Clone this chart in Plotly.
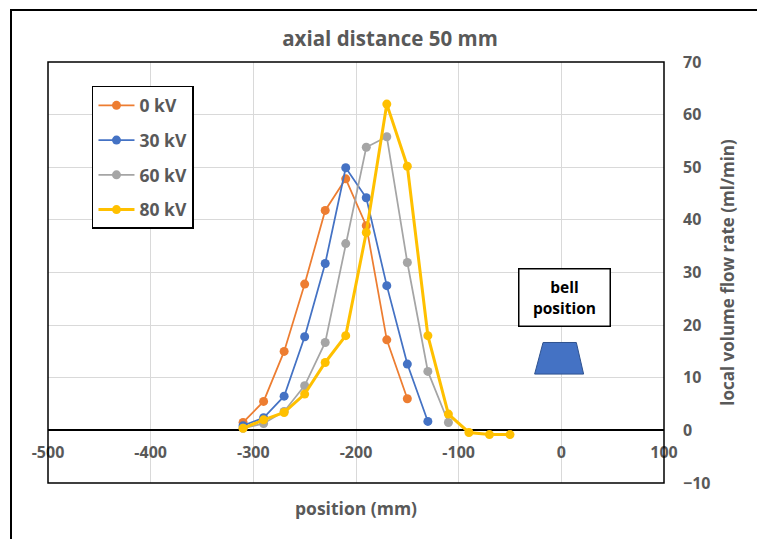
import plotly.graph_objects as go

# ---- data ----
positions = [-310, -290, -270, -250, -230, -210, -190, -170, -150, -130, -110, -90, -70, -50]

kv0 = [1.5, 5.5, 15.0, 27.8, 41.8, 47.8, 38.9, 17.2, 6.0]
kv30 = [0.9, 2.4, 6.5, 17.8, 31.7, 49.9, 44.2, 27.5, 12.6, 1.7]
kv60 = [0.4, 1.3, 3.6, 8.5, 16.7, 35.5, 53.8, 55.8, 31.9, 11.2, 1.5]
kv80 = [0.4, 2.0, 3.4, 6.9, 12.9, 18.0, 37.6, 62.0, 50.2, 18.0, 3.1, -0.4, -0.8, -0.8]

series_names = ["0 kV", "30 kV", "60 kV", "80 kV"]
series_values = [kv0, kv30, kv60, kv80]
series_colors = ["#ED7D31", "#4472C4", "#A5A5A5", "#FFC000"]
series_widths = [1.75, 1.75, 1.75, 3]

x_ticks = [-500, -400, -300, -200, -100, 0, 100]
y_ticks = [-10, 0, 10, 20, 30, 40, 50, 60, 70]

# bell symbol (trapezoid) outline in data units
bell_x = [-26, -17.8, 14.6, 21.7]
bell_y = [10.7, 16.7, 16.7, 10.7]
bell_label_pos = (2.6, 25.3)

FONT = "Open Sans"
GREY = "#595959"

fig = go.Figure()
for name, vals, col, w in zip(series_names, series_values, series_colors, series_widths):
    fig.add_trace(go.Scatter(
        x=positions[:len(vals)], y=vals, name=name, mode="lines+markers",
        line=dict(color=col, width=w),
        marker=dict(color=col, size=9),
        legendgroup=name,
    ))

path = "M " + " L ".join(f"{a},{b}" for a, b in zip(bell_x, bell_y)) + " Z"

fig.update_layout(
    width=757, height=539,
    margin=dict(l=48, r=93, t=62, b=56),
    paper_bgcolor="white", plot_bgcolor="white",
    font=dict(family=FONT, color=GREY, size=16),
    title=dict(text="<b>axial distance 50 mm</b>", x=390/757, xanchor="center",
               y=1 - 39/539, yanchor="middle",
               font=dict(family=FONT, size=20.5, color=GREY)),
    showlegend=True,
    legend=dict(x=0.0714, y=0.943, xanchor="left", yanchor="top",
                bgcolor="white", bordercolor="black", borderwidth=1.5,
                font=dict(family=FONT, size=17.5, color=GREY, weight="bold"),
                tracegroupgap=9, itemwidth=36),
    xaxis=dict(range=[-500, 100], tickvals=x_ticks, ticktext=[str(v) for v in x_ticks],
               showgrid=True, gridcolor="#D9D9D9", gridwidth=1,
               zeroline=False, showline=False, ticks="",
               anchor="free", position=0.125, ticklabelstandoff=11,
               tickfont=dict(family=FONT, size=16, color=GREY, weight="bold")),
    yaxis=dict(range=[-10, 70], tickvals=y_ticks, side="right",
               showgrid=True, gridcolor="#D9D9D9", gridwidth=1,
               zeroline=True, zerolinecolor="black", zerolinewidth=1.5,
               showline=False, ticks="", ticklabelstandoff=18,
               tickfont=dict(family=FONT, size=16, color=GREY, weight="bold"),
               title=dict(text="<b>local volume flow rate (ml/min)</b>", standoff=12,
                          font=dict(family=FONT, size=17, color=GREY))),
    shapes=[
        dict(type="rect", xref="paper", yref="paper", x0=0, x1=1, y0=0, y1=1,
             line=dict(color="black", width=1.5), layer="above"),
        dict(type="rect", xref="paper", yref="paper", x0=(11 - 48) / 616, x1=1.3,
             y0=-0.3, y1=(483 - 10) / 421, line=dict(color="black", width=2)),
        dict(type="path", xref="x", yref="y", path=path,
             fillcolor="#4472C4", line=dict(color="#2F528F", width=1)),
    ],
    annotations=[
        dict(text="<b>bell<br>position</b>", x=bell_label_pos[0], y=bell_label_pos[1],
             xref="x", yref="y", showarrow=False, align="center",
             font=dict(family=FONT, size=15.5, color="black"),
             bgcolor="white", bordercolor="black", borderwidth=1.5,
             width=88, height=54),
        dict(text="<b>position (mm)</b>", x=0.5, y=(483 - 508) / 421, xref="paper",
             yref="paper", showarrow=False, yanchor="middle",
             font=dict(family=FONT, size=17.5, color=GREY)),
    ],
)

fig.write_html("out.html")
